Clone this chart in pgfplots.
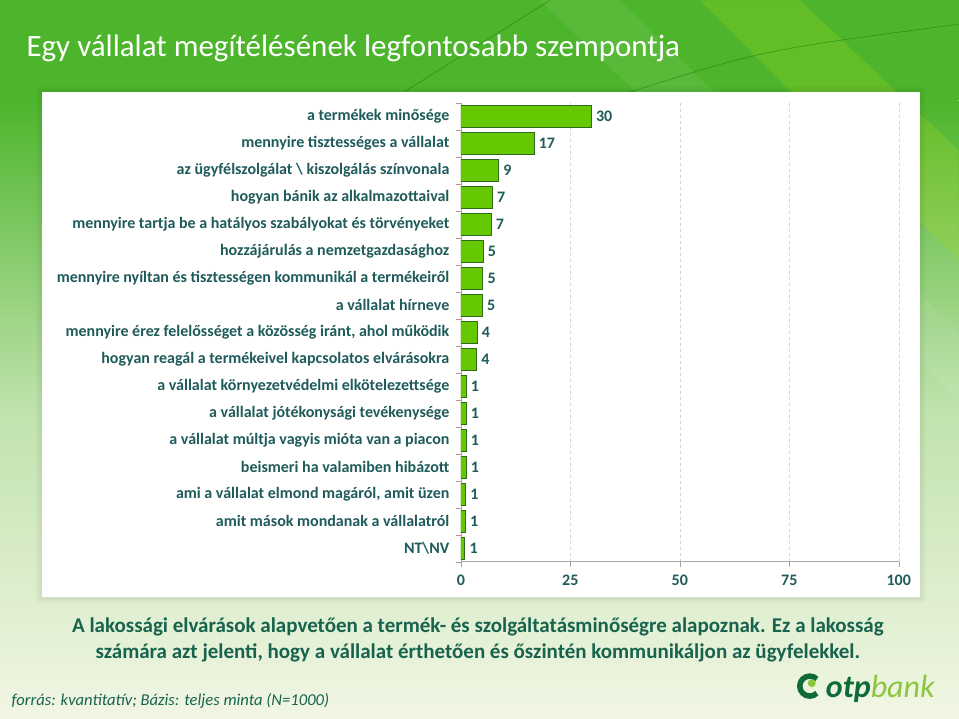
\documentclass[border=0pt]{standalone}
\usepackage{pgfplots}
\pgfplotsset{compat=1.18}
\usepackage{fontspec}
\setmainfont{Carlito}
\definecolor{bgreen}{HTML}{4DB52C}
\definecolor{paleg}{HTML}{F1F6E4}
\definecolor{barg}{HTML}{66C800}
\definecolor{barline}{HTML}{2E6B1A}
\definecolor{labc}{HTML}{1E5B5A}
\definecolor{txtg}{HTML}{17634E}
\definecolor{logod}{HTML}{0E6B38}
\definecolor{logol}{HTML}{8CC63F}

\begin{document}
\begin{tikzpicture}
\begin{scope}[x=1pt,y=-1pt]
% slide background
\fill[bgreen] (0,0) rectangle (959,100);
\shade[top color=bgreen, bottom color=paleg, middle color=bgreen!30!paleg]
  (0,100) rectangle (959,718);
\fill[yellow!70!green, opacity=0.22] (700,0) -- (800,0) -- (959,150) -- (959,260) -- cycle;
\fill[white, opacity=0.07] (540,0) -- (620,0) -- (959,330) -- (959,400) -- cycle;
\draw[green!40!black, opacity=0.45, line width=0.6pt] (550,0) .. controls (470,50) .. (391,100);
\draw[green!40!black, opacity=0.45, line width=0.6pt] (959,24) .. controls (760,50) .. (605,100);
% panel with soft shadow
\fill[black, opacity=0.025] (36,86) rectangle (926,603);
\fill[black, opacity=0.035] (39,89) rectangle (923,600);
\fill[white] (42,92) rectangle (920,597);
% title
\node[anchor=west, font=\fontsize{31}{36}\selectfont, text=white] at (23,48)
  {Egy vállalat megítélésének legfontosabb szempontja};
% conclusion
\node[align=center, font=\fontsize{21}{26}\selectfont\bfseries, text=txtg] at (478,640)
  {A lakossági elvárások alapvetően a termék- és szolgáltatásminőségre alapoznak. Ez a lakosság\\
   számára azt jelenti, hogy a vállalat érthetően és őszintén kommunikáljon az ügyfelekkel.};
% source
\node[anchor=west, font=\fontsize{16.6}{19}\selectfont\itshape, text=txtg] at (8,701)
  {forrás: kvantitatív; Bázis: teljes minta (N=1000)};
% logo
\draw[logod, line width=5.5pt] (810,686) ++(45:10) arc[start angle=45, end angle=315, radius=10];
\fill[logol] (812,683) circle (4);
\node[anchor=base west, inner sep=0pt, font=\fontsize{32}{36}\selectfont\itshape, text=logod] at (826,697)
  {\textbf{otp}\textcolor{logol}{bank}};
\end{scope}

\begin{axis}[at={(461pt,-561.5pt)}, anchor=south west, scale only axis,
  width=438pt, height=459pt,
  xmin=0, xmax=100, ymin=-0.5, ymax=16.5, y dir=reverse,
  xbar, bar width=22pt,
  axis x line*=bottom, axis y line*=left,
  axis line style={-, gray!70},
  xtick={0,25,50,75,100}, tick align=outside,
  major tick length=5pt,
  xtick style={gray!70},
  ytick style={red!25!gray!70},
  xmajorgrids, grid style={dashed, gray!35},
  ytick={-0.5,0.5,...,16.5}, yticklabels={},
  extra y ticks={0,...,16},
  extra y tick style={major tick length=0pt},
  extra y tick labels={a termékek minősége,
    mennyire tisztességes a vállalat,
    az ügyfélszolgálat \textbackslash\ kiszolgálás színvonala,
    hogyan bánik az alkalmazottaival,
    mennyire tartja be a hatályos szabályokat és törvényeket,
    hozzájárulás a nemzetgazdasághoz,
    mennyire nyíltan és tisztességen kommunikál a termékeiről,
    a vállalat hírneve,
    {mennyire érez felelősséget a közösség iránt, ahol működik},
    hogyan reagál a termékeivel kapcsolatos elvárásokra,
    a vállalat környezetvédelmi elkötelezettsége,
    a vállalat jótékonysági tevékenysége,
    a vállalat múltja vagyis mióta van a piacon,
    beismeri ha valamiben hibázott,
    {ami a vállalat elmond magáról, amit üzen},
    amit mások mondanak a vállalatról,
    NT\textbackslash NV},
  tick label style={font=\fontsize{16}{19}\selectfont\bfseries, text=labc},
  yticklabel style={xshift=-8pt},
  xticklabel style={yshift=-5pt},
  /pgf/number format/assume math mode=true,
  nodes near coords={\pgfmathprintnumber[fixed,precision=0]{\pgfplotspointmeta}},
  nodes near coords style={font=\fontsize{16}{19}\selectfont\bfseries, text=labc,
    anchor=west, xshift=1pt},
]
\addplot[fill=barg, draw=barline, line width=0.9pt] coordinates {
  (29.8,0) (16.7,1) (8.6,2) (7.2,3) (6.9,4) (5.1,5) (5.0,6) (4.9,7)
  (3.7,8) (3.6,9) (1.2,10) (1.2,11) (1.2,12) (1.2,13) (1.1,14) (1.0,15) (0.9,16)};
\end{axis}
\end{tikzpicture}
\end{document}
